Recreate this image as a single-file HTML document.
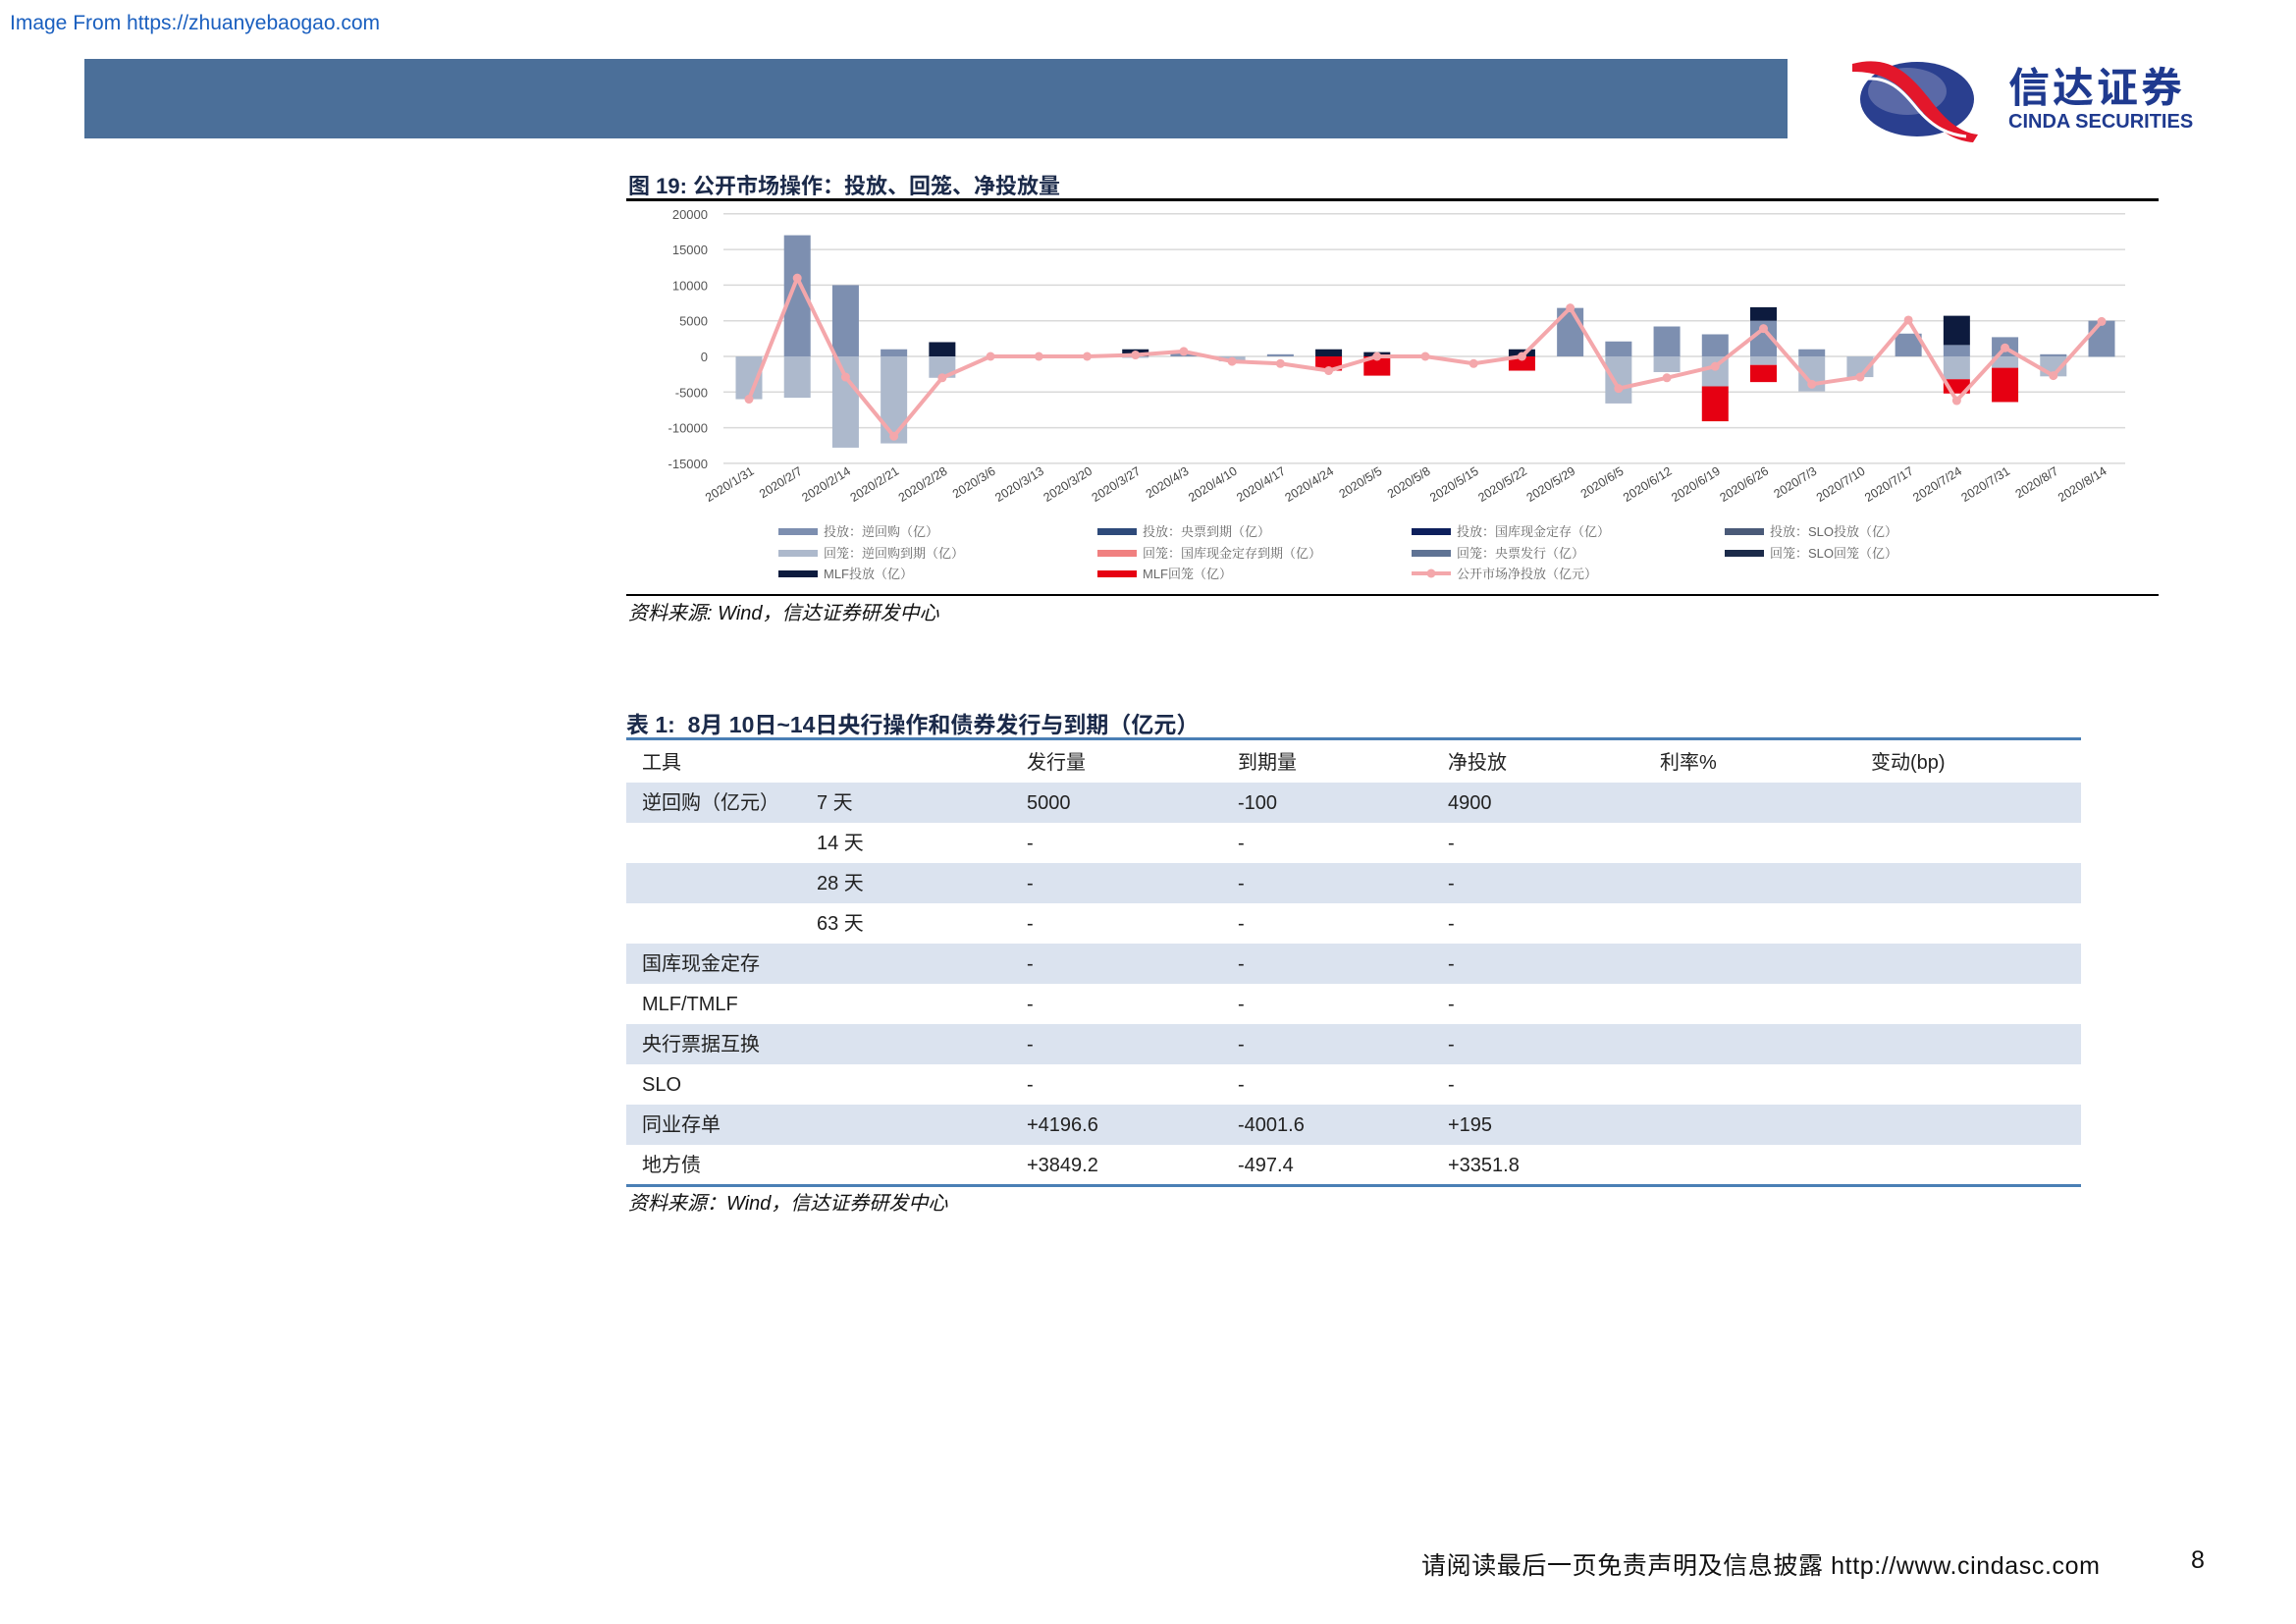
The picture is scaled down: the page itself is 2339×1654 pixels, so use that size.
<!DOCTYPE html>
<html><head><meta charset="utf-8">
<style>
body{margin:0;background:#fff;}
#page{position:relative;width:2339px;height:1654px;overflow:hidden;background:#fff;font-family:"Liberation Sans","Noto Sans CJK SC",sans-serif;}
.abs{position:absolute;white-space:nowrap;}
table{border-collapse:collapse;}
td{vertical-align:middle;line-height:22px;padding:0;}
</style></head><body>
<div id="page">
<div class="abs" style="left:10px;top:12px;font-size:21px;color:#1a5fbf;">Image From https://zhuanyebaogao.com</div>
<div class="abs" style="left:86px;top:60px;width:1735px;height:81px;background:#4b6f99;"></div>
<svg class="abs" style="left:1885px;top:55px" width="135" height="90" viewBox="0 0 135 90">
<ellipse cx="68" cy="46" rx="58" ry="38" fill="#2a3f8f"/>
<ellipse cx="58" cy="38" rx="40" ry="24" fill="#7b86b8" opacity="0.6"/>
<path d="M2 10 C40 0 60 20 80 45 C95 65 110 80 130 82 L125 90 C100 88 85 72 70 55 C50 30 35 18 2 18 Z" fill="#e3172b"/>
<path d="M10 26 C40 20 55 40 70 58 C85 75 100 82 118 84" stroke="#fff" stroke-width="3" fill="none"/>
</svg>
<div class="abs" style="left:2046px;top:68px;font-size:42px;line-height:44px;font-weight:bold;color:#1f3a8f;letter-spacing:3px;">信达证券</div>
<div class="abs" style="left:2046px;top:113px;font-size:20px;line-height:22px;font-weight:bold;color:#1f3a8f;">CINDA SECURITIES</div>

<div class="abs" style="left:640px;top:172px;font-size:22px;font-weight:bold;color:#1b2a4a;">图 19: 公开市场操作：投放、回笼、净投放量</div>
<div class="abs" style="left:638px;top:202px;width:1561px;height:3px;background:#000;"></div>
<svg class="abs" id="chart" style="left:0;top:0" width="2339" height="640"></svg>
<div class="abs" style="left:638px;top:605px;width:1561px;height:2px;background:#000;"></div>
<div class="abs" style="left:640px;top:608px;font-size:20px;font-style:italic;color:#111;">资料来源: Wind，信达证券研发中心</div>

<div class="abs" style="left:638px;top:719px;font-size:23px;font-weight:bold;color:#1b2a4a;">表 1:&nbsp; 8月 10日~14日央行操作和债券发行与到期（亿元）</div>
<div class="abs" style="left:638px;top:751px;width:1482px;height:3px;background:#4a7fb5;"></div>
<table class="abs" style="left:638px;top:756px;width:1482px;font-size:20px;color:#222;">
<colgroup><col style="width:194px"><col style="width:214px"><col style="width:215px"><col style="width:214px"><col style="width:216px"><col style="width:215px"><col></colgroup>
<tr style="height:41px"><td style="padding-left:16px">工具</td><td></td><td>发行量</td><td>到期量</td><td>净投放</td><td>利率%</td><td>变动(bp)</td></tr>
<tr style="height:41px;background:#dbe3ef"><td style="padding-left:16px">逆回购（亿元）</td><td>7 天</td><td>5000</td><td>-100</td><td>4900</td><td></td><td></td></tr>
<tr style="height:41px"><td></td><td>14 天</td><td>-</td><td>-</td><td>-</td><td></td><td></td></tr>
<tr style="height:41px;background:#dbe3ef"><td></td><td>28 天</td><td>-</td><td>-</td><td>-</td><td></td><td></td></tr>
<tr style="height:41px"><td></td><td>63 天</td><td>-</td><td>-</td><td>-</td><td></td><td></td></tr>
<tr style="height:41px;background:#dbe3ef"><td style="padding-left:16px">国库现金定存</td><td></td><td>-</td><td>-</td><td>-</td><td></td><td></td></tr>
<tr style="height:41px"><td style="padding-left:16px">MLF/TMLF</td><td></td><td>-</td><td>-</td><td>-</td><td></td><td></td></tr>
<tr style="height:41px;background:#dbe3ef"><td style="padding-left:16px">央行票据互换</td><td></td><td>-</td><td>-</td><td>-</td><td></td><td></td></tr>
<tr style="height:41px"><td style="padding-left:16px">SLO</td><td></td><td>-</td><td>-</td><td>-</td><td></td><td></td></tr>
<tr style="height:41px;background:#dbe3ef"><td style="padding-left:16px">同业存单</td><td></td><td>+4196.6</td><td>-4001.6</td><td>+195</td><td></td><td></td></tr>
<tr style="height:41px"><td style="padding-left:16px">地方债</td><td></td><td>+3849.2</td><td>-497.4</td><td>+3351.8</td><td></td><td></td></tr>
</table>
<div class="abs" style="left:638px;top:1206px;width:1482px;height:3px;background:#4a7fb5;"></div>
<div class="abs" style="left:640px;top:1209px;font-size:20px;font-style:italic;color:#111;">资料来源：Wind，信达证券研发中心</div>

<div class="abs" style="left:1448px;top:1575px;font-size:25px;color:#111;letter-spacing:0.6px;">请阅读最后一页免责声明及信息披露 http://www.cindasc.com</div>
<div class="abs" style="left:2232px;top:1575px;font-size:25px;color:#111;">8</div>
</div>
<script>
const categories=["2020/1/31","2020/2/7","2020/2/14","2020/2/21","2020/2/28","2020/3/6","2020/3/13","2020/3/20","2020/3/27","2020/4/3","2020/4/10","2020/4/17","2020/4/24","2020/5/5","2020/5/8","2020/5/15","2020/5/22","2020/5/29","2020/6/5","2020/6/12","2020/6/19","2020/6/26","2020/7/3","2020/7/10","2020/7/17","2020/7/24","2020/7/31","2020/8/7","2020/8/14"];
const revRepoIn=[0,17000,10000,1000,0,0,0,200,0,600,0,300,0,0,0,0,0,6800,2100,4200,3100,5000,1000,0,3200,1600,2700,300,5000];
const mlfIn=[0,0,0,0,2000,0,0,0,1000,0,0,0,1000,600,0,0,1000,0,0,0,0,1900,0,0,0,4100,0,0,0];
const revRepoOut=[-6000,-5800,-12800,-12200,-3000,0,0,-200,-200,0,-700,0,0,0,0,0,0,0,-6600,-2200,-4200,-1200,-4900,-2900,0,-3200,-1600,-2800,-100];
const mlfOut=[0,0,0,0,0,0,0,0,0,0,0,0,-2000,-2700,0,0,-2000,0,0,0,-4900,-2400,0,0,0,-2000,-4800,0,0];
const netInjection=[-6000,11000,-2900,-11200,-3000,0,0,0,200,700,-700,-1000,-2000,0,0,-1000,0,6800,-4500,-3000,-1400,3900,-3900,-2900,5100,-6200,1200,-2700,4900];
const yTicks=[20000,15000,10000,5000,0,-5000,-10000,-15000];

const svg=document.getElementById('chart');
const NS='http://www.w3.org/2000/svg';
const y0=363, pxPer=36.3/5000, x0=763, step=(2141-763)/28, bw=27;
function yScale(v){return y0-v*pxPer;}
function xScale(i){return x0+i*step;}
function mk(tag,attrs){const e=document.createElementNS(NS,tag);for(const k in attrs)e.setAttribute(k,attrs[k]);svg.appendChild(e);return e;}
yTicks.forEach(t=>{
  const g=mk('line',{x1:737,x2:2165,y1:yScale(t),y2:yScale(t),stroke:'#d9d9d9','stroke-width':1.5});
  
  
  const tx=mk('text',{x:721,y:yScale(t)+5,'text-anchor':'end','font-size':13,fill:'#555','font-family':'Liberation Sans, sans-serif'});
  tx.textContent=t;
  
  
});
function bar(i,a,b,col,name){
  if(a===b)return;
  const r=mk('rect',{x:xScale(i)-bw/2,y:Math.min(yScale(a),yScale(b)),width:bw,height:Math.abs(yScale(a)-yScale(b)),fill:col});
  
  
}
categories.forEach((c,i)=>{
  let p=0;
  bar(i,p,p+revRepoIn[i],'#7d8fb0','bar-reverse-repo-in');p+=revRepoIn[i];
  bar(i,p,p+mlfIn[i],'#0d1b3e','bar-mlf-in');p+=mlfIn[i];
  let n=0;
  bar(i,n,n+revRepoOut[i],'#adb9cc','bar-reverse-repo-out');n+=revRepoOut[i];
  bar(i,n,n+mlfOut[i],'#e60012','bar-mlf-out');n+=mlfOut[i];
  const tx=mk('text',{x:xScale(i)+6,y:482,'text-anchor':'end','font-size':12.5,fill:'#444','font-family':'Liberation Sans, sans-serif',transform:`rotate(-32 ${xScale(i)+6} 482)`});
  tx.textContent=c;
  
  
});
const pts=netInjection.map((v,i)=>xScale(i)+','+yScale(v)).join(' ');
const pl=mk('polyline',{points:pts,fill:'none',stroke:'#f4a7ab','stroke-width':4,'stroke-linejoin':'round'});


netInjection.forEach((v,i)=>{
  const c=mk('circle',{cx:xScale(i),cy:yScale(v),r:4.5,fill:'#f4a7ab'});
  
  
});
const legendItems=[
 ['投放：逆回购（亿）','#7d8fb0',793,541],['投放：央票到期（亿）','#2e4a7a',1118,541],['投放：国库现金定存（亿）','#0d1f5c',1438,541],['投放：SLO投放（亿）','#4a5a78',1757,541],
 ['回笼：逆回购到期（亿）','#adb9cc',793,563],['回笼：国库现金定存到期（亿）','#f08080',1118,563],['回笼：央票发行（亿）','#5f7394',1438,563],['回笼：SLO回笼（亿）','#1c2b4a',1757,563],
 ['MLF投放（亿）','#0d1b3e',793,584],['MLF回笼（亿）','#e60012',1118,584]];
legendItems.forEach(l=>{
  const r=mk('rect',{x:l[2],y:l[3]-3,width:40,height:7,fill:l[1]});
  
  
  const t=mk('text',{x:l[2]+46,y:l[3]+5,'font-size':13,fill:'#666','font-family':'Liberation Sans, Noto Serif CJK SC, serif'});
  t.textContent=l[0];
  
  
});
const ll=mk('line',{x1:1438,x2:1478,y1:584,y2:584,stroke:'#f4a7ab','stroke-width':4});


const lc=mk('circle',{cx:1458,cy:584,r:4.5,fill:'#f4a7ab'});


const lt=mk('text',{x:1484,y:589,'font-size':13,fill:'#666','font-family':'Liberation Sans, Noto Serif CJK SC, serif'});
lt.textContent='公开市场净投放（亿元）';


</script>
</body></html>
